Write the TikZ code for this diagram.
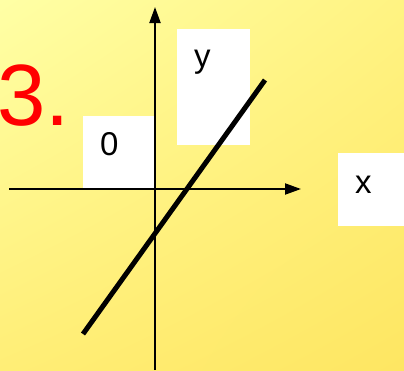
\documentclass[tikz,border=0pt]{standalone}
\usepackage{fontspec}
\setmainfont{Liberation Sans}
\usetikzlibrary{arrows.meta,shadings}
\definecolor{bgA}{RGB}{255,255,165}
\definecolor{bgB}{RGB}{255,243,130}
\definecolor{bgC}{RGB}{255,238,118}
\definecolor{bgD}{RGB}{254,230,98}
\begin{document}
\begin{tikzpicture}[x=1pt,y=-1pt,
  box/.style={fill=white, draw=none, inner sep=0pt, anchor=north west},
  lbl/.style={font=\fontsize{33}{33}\selectfont, inner sep=0pt, anchor=base west},
  axis/.style={line width=2pt, -{Triangle[length=16pt,width=11pt]}},
  graphline/.style={line width=5pt},
]
\useasboundingbox (0,0) rectangle (404,370);
\shade[upper left=bgA, upper right=bgB, lower left=bgC, lower right=bgD] (0,0) rectangle (404,370);
% title
\node[font=\fontsize{87}{87}\selectfont, text=red, inner sep=0pt, anchor=base west] (title) at (-3,125) {3.};
% white boxes
\node[box, minimum width=73pt, minimum height=73pt] (b0) at (83,116) {};
\node[box, minimum width=73pt, minimum height=116pt] (by) at (177,29) {};
\node[box, minimum width=66pt, minimum height=73pt] (bx) at (338,153) {};
% labels
\node[lbl] (t0) at (100,155) {0};
\node[lbl] (ty) at (194,67) {y};
\node[lbl] (tx) at (355,193) {x};
% axes
\coordinate (ystart) at (155,370);
\coordinate (yend) at (155,7);
\coordinate (xstart) at (9,189);
\coordinate (xend) at (301,189);
\draw[axis] (ystart) -- (yend);
\draw[axis] (xstart) -- (xend);
% graph line
\coordinate (la) at (83,334);
\coordinate (lb) at (265,80);
\draw[graphline] (la) -- (lb);
\end{tikzpicture}
\end{document}
